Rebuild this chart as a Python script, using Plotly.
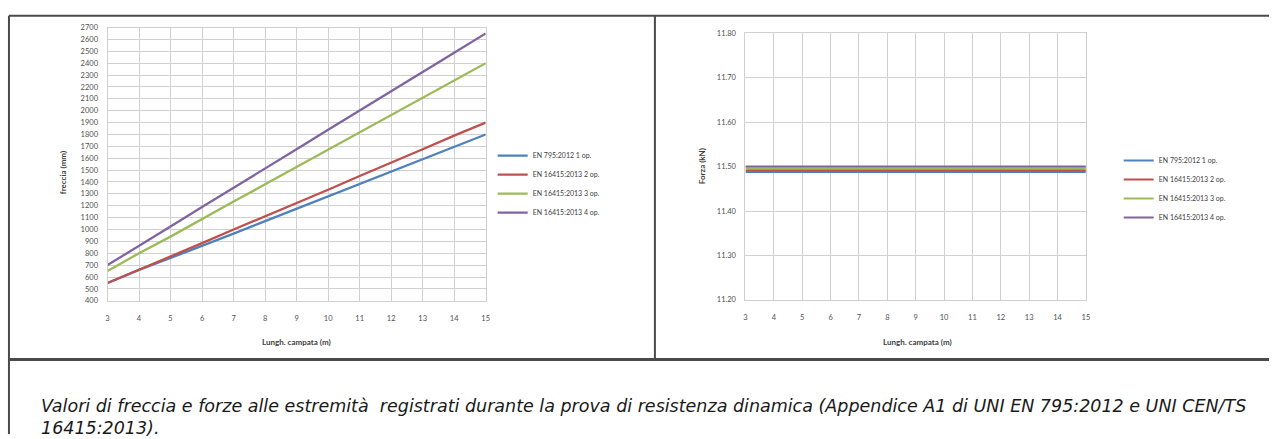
import plotly.graph_objects as go

W, H = 1273, 439

# span length (m)
span = [3, 4, 5, 6, 7, 8, 9, 10, 11, 12, 13, 14, 15]

# deflection (mm)
defl_795_1 = [550, 660, 760, 860, 965, 1070, 1175, 1280, 1385, 1490, 1590, 1695, 1800]
defl_16415_2 = [550, 660, 770, 885, 1000, 1110, 1225, 1335, 1450, 1560, 1675, 1790, 1900]
defl_16415_3 = [650, 800, 940, 1090, 1235, 1380, 1525, 1670, 1815, 1965, 2110, 2255, 2400]
defl_16415_4 = [700, 860, 1025, 1190, 1350, 1512, 1675, 1840, 2000, 2162, 2325, 2487, 2650]

# end force (kN)
force_795_1 = [11.488] * 13
force_16415_2 = [11.492] * 13
force_16415_3 = [11.496] * 13
force_16415_4 = [11.500] * 13

names = ["EN 795:2012 1 op.", "EN 16415:2013 2 op.", "EN 16415:2013 3 op.", "EN 16415:2013 4 op."]
colors = ["#4F81BD", "#C0504D", "#9BBB59", "#8064A2"]

caption_1 = ("Valori di freccia e forze alle estremità  registrati durante la prova di resistenza "
             "dinamica (Appendice A1 di UNI EN 795:2012 e UNI CEN/TS")
caption_2 = "16415:2013)."

FONT = "Lato"
TICK = dict(family=FONT, size=7.5, color="#505050")
GRID = "#d0d0d0"


def px(x):
    return x / W


def py(y):
    return 1 - y / H


fig = go.Figure()

for name, col, ys in zip(names, colors, [defl_795_1, defl_16415_2, defl_16415_3, defl_16415_4]):
    fig.add_trace(go.Scatter(x=span, y=ys, mode="lines", name=name,
                             line=dict(color=col, width=2.3), xaxis="x", yaxis="y",
                             legend="legend"))

for name, col, ys in zip(names, colors, [force_795_1, force_16415_2, force_16415_3, force_16415_4]):
    fig.add_trace(go.Scatter(x=span, y=ys, mode="lines", name=name,
                             line=dict(color=col, width=2), xaxis="x2", yaxis="y2",
                             legend="legend2"))

axis_common = dict(showgrid=True, gridcolor=GRID, gridwidth=1, zeroline=False,
                   showline=True, linecolor=GRID, linewidth=1, mirror=True,
                   tickfont=TICK, ticks="", fixedrange=True)

legend_font = dict(family=FONT, size=7, color="#404040")

fig.update_layout(
    width=W, height=H,
    margin=dict(l=0, r=0, t=0, b=0),
    paper_bgcolor="white", plot_bgcolor="white",
    font=dict(family=FONT, color="#404040"),
    xaxis=dict(domain=[px(106), px(486)], range=[3, 15], dtick=1, tick0=3,
               anchor="y", ticklabelstandoff=10, **axis_common),
    yaxis=dict(domain=[py(303), py(24)], range=[400, 2700], dtick=100, tick0=400,
               anchor="x", ticklabelstandoff=7, **axis_common),
    xaxis2=dict(domain=[px(747), px(1089)], range=[3, 15], dtick=1, tick0=3,
                anchor="y2", ticklabelstandoff=10, **axis_common),
    yaxis2=dict(domain=[py(302), py(30)], range=[11.2, 11.8], dtick=0.1, tick0=11.2,
                tickformat=".2f", anchor="x2", ticklabelstandoff=7, **axis_common),
    legend=dict(x=px(493), y=py(140), xanchor="left", yanchor="top",
                font=legend_font, itemwidth=30, tracegroupgap=0,
                bgcolor="rgba(0,0,0,0)"),
    legend2=dict(x=px(1122), y=py(145), xanchor="left", yanchor="top",
                 font=legend_font, itemwidth=30, tracegroupgap=0,
                 bgcolor="rgba(0,0,0,0)"),
)

title_font = dict(family=FONT, size=8, color="#404040")

# axis titles
fig.add_annotation(x=px(296), y=py(345), xref="paper", yref="paper", xanchor="center", yanchor="middle",
                   text="<b>Lungh. campata (m)</b>", showarrow=False, font=title_font)
fig.add_annotation(x=px(920), y=py(345), xref="paper", yref="paper", xanchor="center", yanchor="middle",
                   text="<b>Lungh. campata (m)</b>", showarrow=False, font=title_font)
fig.add_annotation(x=px(62), y=py(172), xref="paper", yref="paper", xanchor="center", yanchor="middle",
                   text="<b>freccia (mm)</b>", textangle=-90, showarrow=False, font=title_font)
fig.add_annotation(x=px(703), y=py(166), xref="paper", yref="paper", xanchor="center", yanchor="middle",
                   text="<b>Forza (kN)</b>", textangle=-90, showarrow=False, font=title_font)

# caption
cap_font = dict(family="DejaVu Sans", size=17.5, color="#1a1a1a")
fig.add_annotation(x=px(38), y=py(410), xref="paper", yref="paper", xanchor="left", yanchor="middle",
                   text="<i>" + caption_1 + "</i>", showarrow=False, font=cap_font, borderpad=0)
fig.add_annotation(x=px(38), y=py(433), xref="paper", yref="paper", xanchor="left", yanchor="middle",
                   text="<i>" + caption_2 + "</i>", showarrow=False, font=cap_font, borderpad=0)

# table frame
BORDER = "#4a4a4a"
frame = [
    (7, 12, W, 12, 2),
    (7, 12, 7, H, 2),
    (656, 12, 656, 363, 2),
    (7, 363, W, 363, 3),
]
for x0, y0, x1, y1, w in frame:
    fig.add_shape(type="line", xref="paper", yref="paper",
                  x0=px(x0), y0=py(y0), x1=px(x1), y1=py(y1),
                  line=dict(color=BORDER, width=w))

fig.write_html("out.html")
